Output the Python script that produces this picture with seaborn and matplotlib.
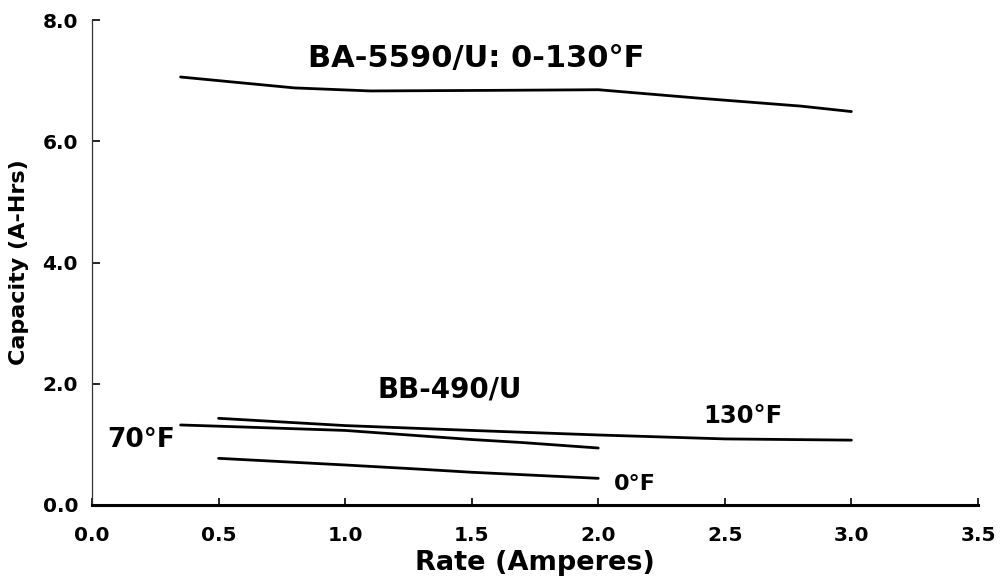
import matplotlib
matplotlib.use("Agg")
import matplotlib.pyplot as plt
import seaborn as sns
import pandas as pd
import numpy as np

# ---- data ----
ba_rate = [0.35, 0.5, 0.8, 1.1, 1.6, 2.0, 2.4, 2.8, 3.0]
ba_cap = [7.06, 7.00, 6.88, 6.83, 6.84, 6.85, 6.71, 6.58, 6.49]

bb130_rate = [0.5, 1.0, 1.5, 2.0, 2.5, 3.0]
bb130_cap = [1.43, 1.31, 1.23, 1.155, 1.09, 1.07]

bb70_rate = [0.35, 0.5, 1.0, 1.3, 1.5, 1.7, 2.0]
bb70_cap = [1.32, 1.30, 1.23, 1.14, 1.08, 1.03, 0.94]

bb0_rate = [0.5, 1.0, 1.3, 1.5, 1.8, 2.0]
bb0_cap = [0.77, 0.66, 0.59, 0.54, 0.48, 0.44]

x_ticks = [0.0, 0.5, 1.0, 1.5, 2.0, 2.5, 3.0, 3.5]
y_ticks = [0.0, 2.0, 4.0, 6.0, 8.0]

series_names = ["BA-5590/U", "BB-490/U 130F", "BB-490/U 70F", "BB-490/U 0F"]

frames = []
for name, r, c in zip(series_names,
                      [ba_rate, bb130_rate, bb70_rate, bb0_rate],
                      [ba_cap, bb130_cap, bb70_cap, bb0_cap]):
    frames.append(pd.DataFrame({"rate": r, "cap": c, "series": name}))
df = pd.concat(frames, ignore_index=True)

sns.set_style("white")
plt.rcParams["font.family"] = ["DejaVu Sans"]
plt.rcParams["font.weight"] = "bold"
plt.rcParams["text.color"] = "black"
plt.rcParams["axes.labelcolor"] = "black"
plt.rcParams["xtick.color"] = "black"
plt.rcParams["ytick.color"] = "black"
plt.rcParams["xtick.direction"] = "in"
plt.rcParams["ytick.direction"] = "in"
plt.rcParams["xtick.bottom"] = True
plt.rcParams["ytick.left"] = True

fig = plt.figure(figsize=(10.02, 5.87), dpi=100)
ax = fig.add_axes([0.0918, 0.1397, 0.8842, 0.8262])

sns.lineplot(data=df, x="rate", y="cap", hue="series", units="series",
             estimator=None, sort=False,
             palette={n: "black" for n in series_names},
             linewidth=2.0, legend=False, ax=ax)

ax.set_xlim(0, 3.5)
ax.set_ylim(0, 8)
ax.set_xticks(x_ticks)
ax.set_yticks(y_ticks)
ax.set_xticklabels([f"{t:.1f}" for t in x_ticks], fontsize=14.5, fontweight="bold")
ax.set_yticklabels([f"{t:.1f}" for t in y_ticks], fontsize=14.5, fontweight="bold")
ax.tick_params(axis="x", which="major", bottom=True, direction="in", length=5,
               width=1.2, pad=15, colors="black")
ax.tick_params(axis="y", which="major", left=True, direction="in", length=6,
               width=1.2, pad=10, colors="black")

ax.set_xlabel("Rate (Amperes)", fontsize=19.5, fontweight="bold", labelpad=4,
              color="black")
ax.set_ylabel("Capacity (A-Hrs)", fontsize=16, fontweight="bold", labelpad=10,
              color="black")

for s in ["top", "right"]:
    ax.spines[s].set_visible(False)
ax.spines["bottom"].set_linewidth(2.2)
ax.spines["bottom"].set_color("black")
ax.spines["left"].set_linewidth(0.9)
ax.spines["left"].set_color("#333333")

# annotations
ax.text(1.518, 7.23, "BA-5590/U: 0-130\u00b0F", ha="center", va="baseline",
        fontsize=22, fontweight="bold", color="black")
ax.text(1.415, 1.78, "BB-490/U", ha="center", va="baseline",
        fontsize=20, fontweight="bold", color="black")
ax.text(0.194, 0.957, "70\u00b0F", ha="center", va="baseline",
        fontsize=19, fontweight="bold", color="black")
ax.text(2.57, 1.353, "130\u00b0F", ha="center", va="baseline",
        fontsize=17.5, fontweight="bold", color="black")
ax.text(2.146, 0.248, "0\u00b0F", ha="center", va="baseline",
        fontsize=16, fontweight="bold", color="black")

fig.savefig("out.png", dpi=100)
